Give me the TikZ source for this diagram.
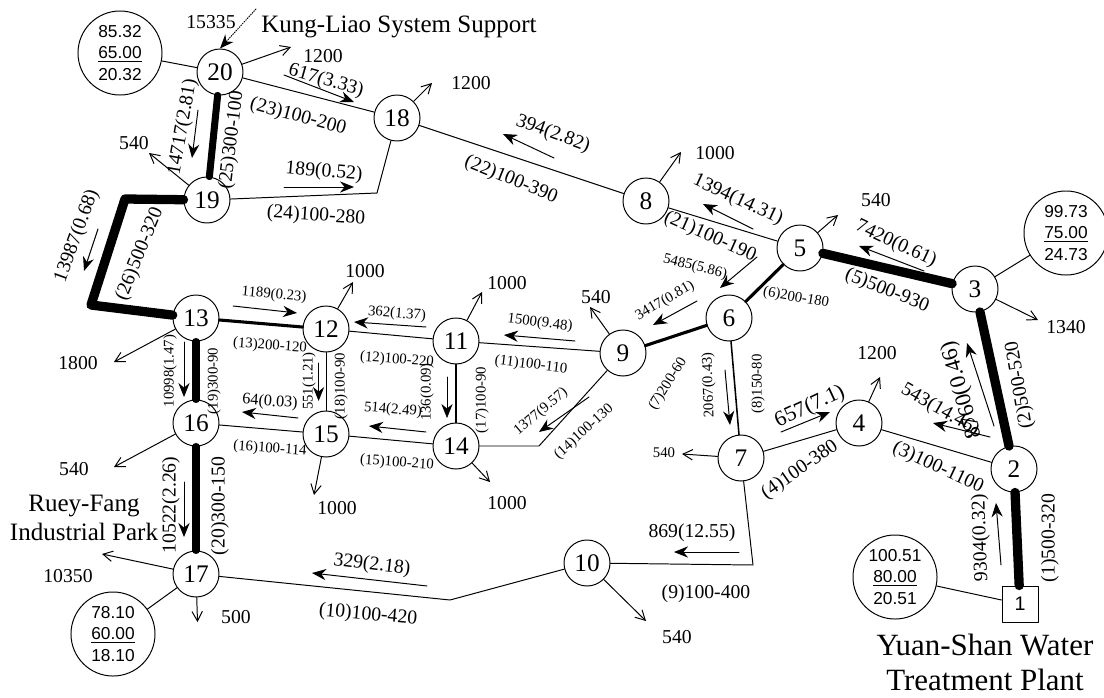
\documentclass[tikz,border=0pt]{standalone}
\usepackage{fontspec}
\setmainfont{Liberation Serif}
\newfontfamily\infofont{Liberation Sans}
\usetikzlibrary{arrows.meta}
\tikzset{
  every picture/.style={line join=round, line cap=round, x=0.025cm, y=-0.025cm},
  thin/.style={line width=0.7pt},
  semithick/.style={line width=1.1pt},
  thick/.style={line width=2.2pt},
  very thick/.style={line width=5pt},
  ultra thick/.style={line width=6.6pt},
  junction/.style={circle, draw, thin, fill=white, inner sep=0pt, minimum size=1.15cm, font=\fontsize{18}{20}\selectfont},
  plant/.style={rectangle, draw, thin, fill=white, inner sep=0pt, minimum size=0.9cm, font=\infofont\fontsize{14}{16}\selectfont},
  info/.style={circle, draw, thin, inner sep=0pt, minimum size=2.1cm, align=center, font=\infofont\fontsize{12.3}{15}\selectfont},
  lab/.style={inner sep=0pt, font=\fontsize{14}{16}\selectfont},
  smalllab/.style={inner sep=0pt, font=\fontsize{10.5}{12}\selectfont},
  title/.style={inner sep=0pt, align=center, font=\fontsize{17.8}{21}\selectfont},
  demand/.style={thin, -{Straight Barb[length=2.4mm,width=2.6mm]}},
  flow/.style={thin, -{Stealth[length=3.5mm,width=2.8mm]}},
}
\begin{document}
\begin{tikzpicture}
\useasboundingbox (0,0) rectangle (1104,697);
% junctions
\node[plant] (n1) at (1020,604) {1};
\node[junction] (n2) at (1014,469) {2};
\node[junction] (n3) at (975,289) {3};
\node[junction] (n4) at (859,423) {4};
\node[junction] (n5) at (800,248) {5};
\node[junction] (n6) at (729,318) {6};
\node[junction] (n7) at (741,458) {7};
\node[junction] (n8) at (646,201) {8};
\node[junction] (n9) at (623,353) {9};
\node[junction] (n10) at (587,563) {10};
\node[junction] (n11) at (456,341) {11};
\node[junction] (n12) at (326,329) {12};
\node[junction] (n13) at (196,318) {13};
\node[junction] (n14) at (456,446) {14};
\node[junction] (n15) at (326,434) {15};
\node[junction] (n16) at (196,423) {16};
\node[junction] (n17) at (196,574) {17};
\node[junction] (n18) at (397,118) {18};
\node[junction] (n19) at (207,200) {19};
\node[junction] (n20) at (220,72) {20};
% pressure circles
\node[info] (info20) at (120,53) {85.32\\\underline{65.00}\\20.32};
\node[info] (info17) at (113,634) {78.10\\\underline{60.00}\\18.10};
\node[info] (info3) at (1066,233) {99.73\\\underline{75.00}\\24.73};
\node[info] (info1) at (895,577) {100.51\\\underline{80.00}\\20.51};
\draw[thin] (info20)--(n20);
\draw[thin] (info17)--(n17);
\draw[thin] (info3)--(n3);
\draw[thin] (info1)--(n1);
% bends
\coordinate (b18) at (377,193);
\coordinate (b19) at (125,199);
\coordinate (b13) at (91,305);
\coordinate (b14) at (539,446);
\coordinate (b7) at (753,565);
\coordinate (b17) at (450,600);
% pipes
\draw[ultra thick] (n1)--(n2);
\draw[ultra thick] (n2)--(n3);
\draw[thin] (n2)--(n4);
\draw[thin] (n4)--(n7);
\draw[ultra thick] (n3)--(n5);
\draw[thick] (n5)--(n6);
\draw[thick] (n6)--(n9);
\draw[semithick] (n6)--(n7);
\draw[thin] (n7)--(b7)--(n10);
\draw[thin] (n10)--(b17)--(n17);
\draw[thin] (n9)--(n11);
\draw[thin] (n11)--(n12);
\draw[thick] (n12)--(n13);
\draw[thin] (n9)--(b14)--(n14);
\draw[thin] (n14)--(n15);
\draw[thin] (n15)--(n16);
\draw[semithick] (n11)--(n14);
\draw[thin] (n12)--(n15);
\draw[very thick] (n13)--(n16);
\draw[very thick] (n16)--(n17);
\draw[thin] (n5)--(n8);
\draw[thin] (n8)--(n18);
\draw[thin] (n18)--(n20);
\draw[thin] (n18)--(b18)--(n19);
\draw[very thick] (n19)--(n20);
\draw[ultra thick] (n19)--(b19)--(b13)--(n13);
% demands
\coordinate (d20) at (291,47);
\coordinate (d18) at (432,83);
\coordinate (d19) at (149,153);
\coordinate (d8) at (681,152);
\coordinate (d5) at (838,215);
\coordinate (d3) at (1038,320);
\coordinate (d9) at (590,307);
\coordinate (d12) at (353,282);
\coordinate (d11) at (482,292);
\coordinate (d13) at (114,362);
\coordinate (d16) at (114,467);
\coordinate (d15) at (314,495);
\coordinate (d14) at (490,482);
\coordinate (d17a) at (102,554);
\coordinate (d17b) at (197.5,622);
\coordinate (d7) at (682,454);
\coordinate (d4) at (880,377);
\coordinate (d10) at (646,621);
\coordinate (supply) at (256,9);
\draw[demand] (n20)--(d20);
\draw[demand] (n18)--(d18);
\draw[demand] (n19)--(d19);
\draw[demand] (n8)--(d8);
\draw[demand] (n5)--(d5);
\draw[demand] (n3)--(d3);
\draw[demand] (n9)--(d9);
\draw[demand] (n12)--(d12);
\draw[demand] (n11)--(d11);
\draw[demand] (n13)--(d13);
\draw[demand] (n16)--(d16);
\draw[demand] (n15)--(d15);
\draw[demand] (n14)--(d14);
\draw[demand] (n17)--(d17a);
\draw[demand] (n17)--(d17b);
\draw[demand] (n7)--(d7);
\draw[demand] (n4)--(d4);
\draw[demand] (n10)--(d10);
\draw[flow, densely dotted] (supply)--(n20.north);
\node[lab] (dl20) at (323,56) {1200};
\node[lab] (dl18) at (471,83) {1200};
\node[lab] (dl19) at (134,143) {540};
\node[lab] (dl8) at (715,153) {1000};
\node[lab] (dl5) at (876,200) {540};
\node[lab] (dl3) at (1066,327) {1340};
\node[lab] (dl9) at (596,297) {540};
\node[lab] (dl12) at (365,271) {1000};
\node[lab] (dl11) at (507,283) {1000};
\node[lab] (dl13) at (78,363) {1800};
\node[lab] (dl16) at (74,469) {540};
\node[lab] (dl15) at (337,508) {1000};
\node[lab] (dl14) at (507,503) {1000};
\node[lab] (dl17a) at (68,576) {10350};
\node[lab] (dl17b) at (236,617) {500};
\node[smalllab] (dl7) at (664,453) {540};
\node[lab] (dl4) at (877,353) {1200};
\node[lab] (dl10) at (677,637) {540};
\node[lab] (dlsupply) at (211,22) {15335};
% flow arrows
\coordinate (fa1) at (1001,565); \coordinate (fb1) at (996,503);
\coordinate (fa2) at (994,426); \coordinate (fb2) at (967,343);
\coordinate (fa3) at (990,437); \coordinate (fb3) at (933,423);
\coordinate (fa4) at (781,432); \coordinate (fb4) at (830,412);
\coordinate (fa5) at (924,271); \coordinate (fb5) at (859,246);
\coordinate (fa6) at (757,257); \coordinate (fb6) at (720,288);
\coordinate (fa7) at (697,301); \coordinate (fb7) at (653,325);
\coordinate (fa8) at (725,370); \coordinate (fb8) at (730,425);
\coordinate (fa9) at (739,552); \coordinate (fb9) at (674,552);
\coordinate (fa10) at (427,586); \coordinate (fb10) at (312,573);
\coordinate (fa11) at (575,341); \coordinate (fb11) at (504,335);
\coordinate (fa12) at (426,327); \coordinate (fb12) at (354,322);
\coordinate (fa13) at (233,306); \coordinate (fb13) at (297,313);
\coordinate (fa14) at (589,397); \coordinate (fb14) at (539,432);
\coordinate (fa15) at (426,432); \coordinate (fb15) at (369,426);
\coordinate (fa16) at (298,418); \coordinate (fb16) at (242,412);
\coordinate (fa17) at (447,377); \coordinate (fb17) at (447,418);
\coordinate (fa18) at (318.6,363); \coordinate (fb18) at (318.6,401);
\coordinate (fa19) at (184,342); \coordinate (fb19) at (184,397);
\coordinate (fa20) at (184,482); \coordinate (fb20) at (184,537);
\coordinate (fa21) at (753,229); \coordinate (fb21) at (703,204);
\coordinate (fa22) at (554,158); \coordinate (fb22) at (503,134);
\coordinate (fa23) at (284,75); \coordinate (fb23) at (354,102);
\coordinate (fa24) at (284,187); \coordinate (fb24) at (354,187);
\coordinate (fa25) at (198,110); \coordinate (fb25) at (192,158);
\coordinate (fa26) at (98,229); \coordinate (fb26) at (84,271);
\draw[flow] (fa1)--(fb1);
\draw[flow] (fa2)--(fb2);
\draw[flow] (fa3)--(fb3);
\draw[flow] (fa4)--(fb4);
\draw[flow] (fa5)--(fb5);
\draw[flow] (fa6)--(fb6);
\draw[flow] (fa7)--(fb7);
\draw[flow] (fa8)--(fb8);
\draw[flow] (fa9)--(fb9);
\draw[flow] (fa10)--(fb10);
\draw[flow] (fa11)--(fb11);
\draw[flow] (fa12)--(fb12);
\draw[flow] (fa13)--(fb13);
\draw[flow] (fa14)--(fb14);
\draw[flow] (fa15)--(fb15);
\draw[flow] (fa16)--(fb16);
\draw[flow,line width=0.4pt] (fa17)--(fb17);
\draw[flow] (fa18)--(fb18);
\draw[flow] (fa19)--(fb19);
\draw[flow] (fa20)--(fb20);
\draw[flow] (fa21)--(fb21);
\draw[flow] (fa22)--(fb22);
\draw[flow] (fa23)--(fb23);
\draw[flow] (fa24)--(fb24);
\draw[flow] (fa25)--(fb25);
\draw[flow] (fa26)--(fb26);
% flow values
\node[lab,rotate=92] (q1) at (981,538) {9304(0.32)};
\node[lab,rotate=106,font=\fontsize{16}{18}\selectfont] (q2) at (962,390) {8760(0.46)};
\node[lab,rotate=-30] (q3) at (940,410) {543(14.46)};
\node[lab,rotate=25,font=\fontsize{15.5}{18}\selectfont] (q4) at (810,407) {657(7.1)};
\node[lab,rotate=-25] (q5) at (896,244) {7420(0.61)};
\node[smalllab,rotate=-14] (q6) at (695,267) {5485(5.86)};
\node[smalllab,rotate=30] (q7) at (665,301) {3417(0.81)};
\node[smalllab,rotate=92] (q8) at (709,385) {2067(0.43)};
\node[lab] (q9) at (692,533) {869(12.55)};
\node[lab,rotate=-7] (q10) at (372,565) {329(2.18)};
\node[smalllab,rotate=-7] (q11) at (540,323) {1500(9.48)};
\node[smalllab,rotate=-5] (q12) at (397,314) {362(1.37)};
\node[smalllab,rotate=-5] (q13) at (274,295) {1189(0.23)};
\node[smalllab,rotate=40] (q14) at (541,412) {1377(9.57)};
\node[smalllab,rotate=-5] (q15) at (393,410) {514(2.49)};
\node[lab,rotate=-4,font=\fontsize{11.5}{14}\selectfont] (q16) at (270,402) {64(0.03)};
\node[smalllab,rotate=90] (q17) at (427,392) {136(0.09)};
\node[smalllab,rotate=90] (q18) at (309,381) {551(1.21)};
\node[smalllab,rotate=90] (q19) at (170,371) {10998(1.47)};
\node[lab,rotate=90] (q20) at (171,505) {10522(2.26)};
\node[lab,rotate=-25] (q21) at (738,200) {1394(14.31)};
\node[lab,rotate=-20] (q22) at (553,134) {394(2.82)};
\node[lab,rotate=-16] (q23) at (326,81) {617(3.33)};
\node[lab,rotate=-5] (q24) at (324,172) {189(0.52)};
\node[lab,rotate=80] (q25) at (183,127) {14717(2.81)};
\node[lab,rotate=70] (q26) at (77,236) {13987(0.68)};
% pipe values
\node[lab,rotate=90] (p1) at (1050,538) {(1)500-320};
\node[lab,rotate=100] (p2) at (1020,385) {(2)500-520};
\node[lab,rotate=-25] (p3) at (938,468) {(3)100-1100};
\node[lab,rotate=35] (p4) at (800,470) {(4)100-380};
\node[lab,rotate=-22] (p5) at (887,291) {(5)500-930};
\node[smalllab,rotate=-10] (p6) at (796,298) {(6)200-180};
\node[smalllab,rotate=58] (p7) at (668,384) {(7)200-60};
\node[smalllab,rotate=90] (p8) at (758,384) {(8)150-80};
\node[lab] (p9) at (706,594) {(9)100-400};
\node[lab,rotate=-5] (p10) at (368,615) {(10)100-420};
\node[smalllab,rotate=-7] (p11) at (531,365) {(11)100-110};
\node[smalllab,rotate=-4] (p12) at (397,360) {(12)100-220};
\node[smalllab,rotate=-4] (p13) at (270,346) {(13)200-120};
\node[smalllab,rotate=42] (p14) at (584,432) {(14)100-130};
\node[smalllab,rotate=-4] (p15) at (397,463) {(15)100-210};
\node[smalllab,rotate=-4] (p16) at (270,449) {(16)100-114};
\node[smalllab,rotate=90] (p17) at (482,400) {(17)100-90};
\node[smalllab,rotate=90] (p18) at (341,386) {(18)100-90};
\node[smalllab,rotate=90] (p19) at (214,381) {(19)300-90};
\node[lab,rotate=90] (p20) at (220,506) {(20)300-150};
\node[lab,rotate=-24] (p21) at (710,237) {(21)100-190};
\node[lab,rotate=-22] (p22) at (511,180) {(22)100-390};
\node[lab,rotate=-15] (p23) at (298,117) {(23)100-200};
\node[lab,rotate=-4] (p24) at (316,216) {(24)100-280};
\node[lab,rotate=83] (p25) at (232,140) {(25)300-100};
\node[lab,rotate=68] (p26) at (140,254) {(26)500-320};
% places
\node[title] (kung) at (399,27) {Kung-Liao System Support};
\node[title] (ruey) at (84,518) {Ruey-Fang\\Industrial Park};
\node[title,font=\fontsize{22}{25}\selectfont] (yuan) at (985,662) {Yuan-Shan Water\\Treatment Plant};
\end{tikzpicture}
\end{document}
